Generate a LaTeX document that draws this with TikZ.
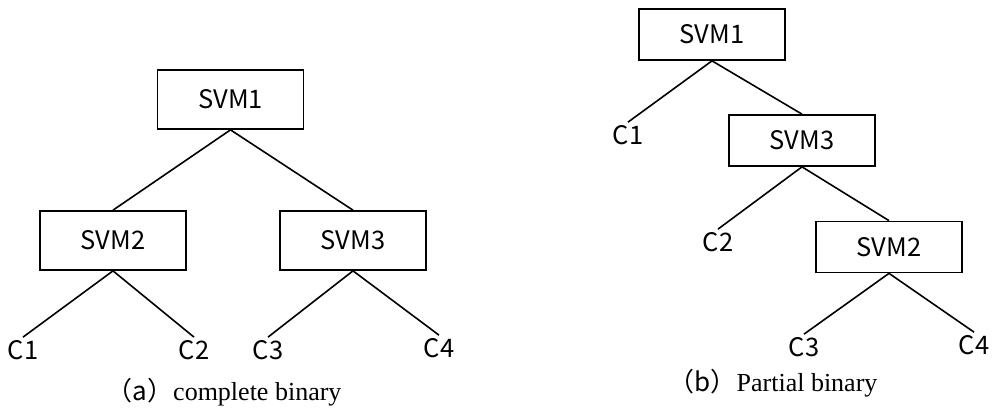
\documentclass[tikz,border=0pt]{standalone}
\usepackage{fontspec}
\setmainfont{Liberation Serif}
\newfontfamily\cjk{Noto Sans CJK SC}
\tikzset{
	svmbox/.style={draw,rectangle,line width=1.7pt,minimum width=146pt,font=\cjk\fontsize{25.5}{30}\selectfont},
	leaf/.style={inner sep=3pt,font=\cjk\fontsize{25.5}{30}\selectfont},
	caption/.style={inner sep=0pt,font=\fontsize{26}{30}\selectfont}
}
\begin{document}
\begin{tikzpicture}[x=1pt,y=-1pt]
		\useasboundingbox (0,0) rectangle (994,408);
		% (a) complete binary
		\begin{scope}[every node/.style={svmbox,minimum height=59pt}]
		    \node (a1) at (230.5,99.5) {SVM1};
		    \node (a2) at (113,240.5) {SVM2};
		    \node (a3) at (353,240.5) {SVM3};
		\end{scope}
		\begin{scope}[every node/.style={leaf}]
		    \node (ac1) at (23,350) {C1};
		    \node (ac2) at (194,350) {C2};
		    \node (ac3) at (268,350) {C3};
		    \node (ac4) at (439,348) {C4};
		\end{scope}
		\begin{scope}[line width=1.6pt]
		    \draw (a1.south) -- (a2.north);
		    \draw (a1.south) -- (a3.north);
		    \draw (a2.south) -- (ac1.north);
		    \draw (a2.south) -- (ac2.north);
		    \draw (a3.south) -- (ac3.north);
		    \draw (a3.south) -- (ac4.north);
		\end{scope}
		\node[caption] (capa) at (224,392) {{\cjk （a）}complete binary};

		% (b) partial binary
		\begin{scope}[every node/.style={svmbox,minimum height=51pt}]
		    \node (b1) at (712,34.5) {SVM1};
		    \node (b3) at (802,140.5) {SVM3};
		    \node (b2) at (889,247) {SVM2};
		\end{scope}
		\begin{scope}[every node/.style={leaf}]
		    \node (bc1) at (628,135) {C1};
		    \node (bc2) at (718,242) {C2};
		    \node (bc3) at (804,347) {C3};
		    \node (bc4) at (974,345) {C4};
		\end{scope}
		\begin{scope}[line width=1.6pt]
		    \draw (b1.south) -- (bc1.north);
		    \draw (b1.south) -- (b3.north);
		    \draw (b3.south) -- (bc2.north);
		    \draw (b3.south) -- (b2.north);
		    \draw (b2.south) -- (bc3.north);
		    \draw (b2.south) -- (bc4.north);
		\end{scope}
		\node[caption] (capb) at (773,383) {{\cjk （b）}Partial binary};
\end{tikzpicture}
\end{document}
